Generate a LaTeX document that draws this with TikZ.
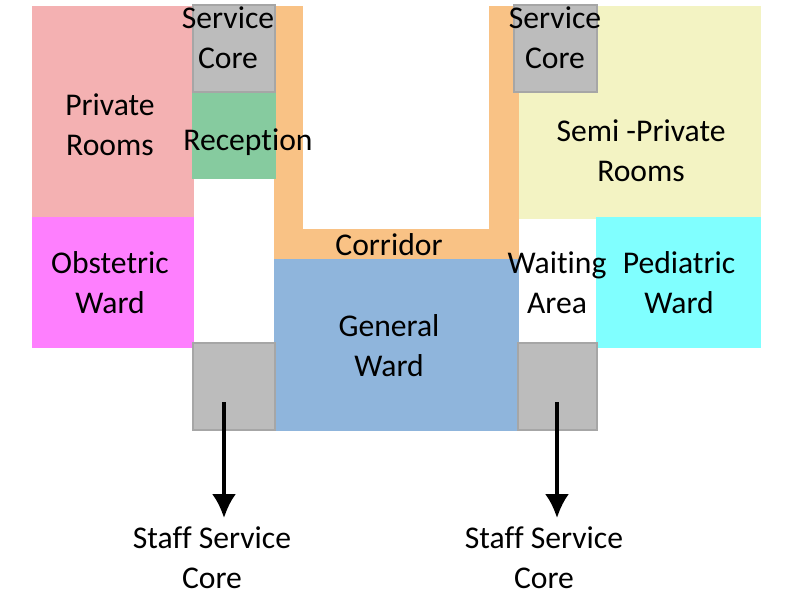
\documentclass[tikz,border=0pt]{standalone}
\usepackage{fontspec}
\setmainfont[Ligatures=NoCommon]{Carlito}
\definecolor{privatecol}{HTML}{F4B1B2}
\definecolor{obstetriccol}{HTML}{FE7FFE}
\definecolor{corecol}{HTML}{BCBCBC}
\definecolor{coreedge}{HTML}{A6A6A6}
\definecolor{receptioncol}{HTML}{86CB9F}
\definecolor{corridorcol}{HTML}{F9C285}
\definecolor{generalcol}{HTML}{8FB5DC}
\definecolor{semicol}{HTML}{F3F3C3}
\definecolor{pediatriccol}{HTML}{80FFFF}
\usetikzlibrary{arrows.meta}
\tikzset{
  label/.style={align=center,inner sep=0pt,font=\fontsize{9}{11.4}\selectfont},
  downarrow/.style={-{Latex[length=2.4mm,width=2.4mm]},line width=1pt}
}
\begin{document}
\begin{tikzpicture}
\useasboundingbox (0,0) rectangle (7.86,6.09);
\coordinate (L1) at (2.24,2.07);
\coordinate (L2) at (2.24,0.91);
\coordinate (R1) at (5.57,2.07);
\coordinate (R2) at (5.57,0.91);
\draw[privatecol,fill=privatecol] (0.33,6.02) -- (1.93,6.02) -- (1.93,3.91) -- (0.33,3.91) -- cycle;
\draw[obstetriccol,fill=obstetriccol] (0.33,3.91) -- (1.93,3.91) -- (1.93,2.62) -- (0.33,2.62) -- cycle;
\draw[semicol,fill=semicol] (5.18,6.02) -- (7.60,6.02) -- (7.60,3.91) -- (5.18,3.91) -- cycle;
\draw[pediatriccol,fill=pediatriccol] (5.97,3.91) -- (7.60,3.91) -- (7.60,2.62) -- (5.97,2.62) -- cycle;
\draw[corridorcol,fill=corridorcol] (2.75,6.02) -- (3.02,6.02) -- (3.02,3.79) -- (4.90,3.79) -- (4.90,6.02) -- (5.14,6.02) -- (5.14,5.17) -- (5.18,5.17) -- (5.18,3.49) -- (2.75,3.49) -- cycle;
\draw[receptioncol,fill=receptioncol] (1.93,5.17) -- (2.75,5.17) -- (2.75,4.31) -- (1.93,4.31) -- cycle;
\draw[generalcol,fill=generalcol] (2.75,3.49) -- (5.18,3.49) -- (5.18,1.79) -- (2.75,1.79) -- cycle;
\draw[coreedge,fill=corecol] (1.93,6.04) -- (2.75,6.04) -- (2.75,5.17) -- (1.93,5.17) -- cycle;
\draw[coreedge,fill=corecol] (5.14,6.04) -- (5.97,6.04) -- (5.97,5.17) -- (5.14,5.17) -- cycle;
\draw[coreedge,fill=corecol] (1.93,2.66) -- (2.75,2.66) -- (2.75,1.79) -- (1.93,1.79) -- cycle;
\draw[coreedge,fill=corecol] (5.18,2.66) -- (5.97,2.66) -- (5.97,1.79) -- (5.18,1.79) -- cycle;
\draw[downarrow] (L1) -- (L2);
\draw[downarrow] (R1) -- (R2);
\node[label] (core1) at (2.28,5.71) {Service\\Core};
\node[label] (core2) at (5.55,5.71) {Service\\Core};
\node[label] (private) at (1.10,4.84) {Private\\Rooms};
\node[label] (reception) at (2.48,4.67) {Reception};
\node[label] (obstetric) at (1.10,3.26) {Obstetric\\Ward};
\node[label] (corridor) at (3.89,3.64) {Corridor};
\node[label] (semi) at (6.41,4.58) {Semi -Private\\Rooms};
\node[label] (waiting) at (5.57,3.26) {Waiting\\Area};
\node[label] (pediatric) at (6.79,3.26) {Pediatric\\Ward};
\node[label] (general) at (3.89,2.63) {General\\Ward};
\node[label] (staff1) at (2.12,0.51) {Staff Service\\Core};
\node[label] (staff2) at (5.44,0.51) {Staff Service\\Core};
\end{tikzpicture}
\end{document}
